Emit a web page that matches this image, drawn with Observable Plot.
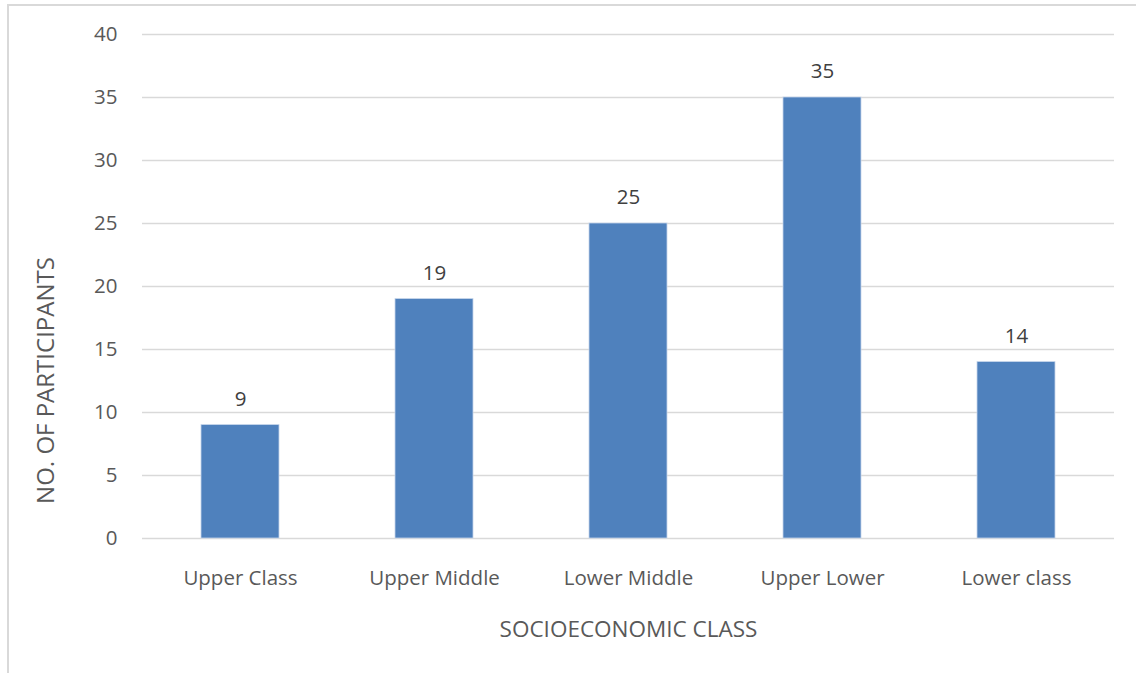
<!DOCTYPE html>
<html>
<head>
<meta charset="utf-8">
<script src="https://cdn.jsdelivr.net/npm/d3@7"></script>
<script src="https://cdn.jsdelivr.net/npm/@observablehq/plot@0.6"></script>
<style>
  body { margin: 0; background: #fff; }
  #wrap { position: relative; width: 1136px; height: 673px; overflow: hidden; }
  #border { position: absolute; left: 7px; top: 4px; width: 1200px; height: 700px;
            border-left: 2px solid #d9d9d9; border-top: 2px solid #d9d9d9; pointer-events: none; }
  svg { font-family: "Open Sans", sans-serif; }
</style>
</head>
<body>
<div id="wrap"><div id="border"></div></div>
<script>
const categories = ["Upper Class", "Upper Middle", "Lower Middle", "Upper Lower", "Lower class"];
const values = [9, 19, 25, 35, 14];
const yTicks = [0, 5, 10, 15, 20, 25, 30, 35, 40];

const data = categories.map((c, i) => ({category: c, value: values[i]}));

const chart = Plot.plot({
  width: 1136,
  height: 673,
  marginLeft: 142,
  marginRight: 22,
  marginTop: 34,
  marginBottom: 135,
  style: {fontSize: "20px", fontFamily: "Open Sans, sans-serif", color: "#595959", background: "transparent"},
  x: {domain: categories, paddingInner: 0.6, paddingOuter: 0.3, label: null},
  y: {domain: [0, 40], label: null},
  marks: [
    Plot.gridY(yTicks, {stroke: "#d9d9d9", strokeOpacity: 1, strokeWidth: 1.5}),
    Plot.axisY(yTicks, {tickSize: 0, tickPadding: 25, fill: "#595959", fontSize: 20.5, label: null}),
    Plot.axisX({tickSize: 0, tickPadding: 32, fill: "#595959", fontSize: 20.5, label: null}),
    Plot.barY(data, {x: "category", y: "value", fill: "#4f81bd", stroke: "#c5d5ea", strokeWidth: 0.8}),
    Plot.text(data, {x: "category", y: "value", text: d => String(d.value), dy: -26, fill: "#404040", fontSize: 20.5}),
    Plot.text(["SOCIOECONOMIC CLASS"], {frameAnchor: "bottom", textAnchor: "middle", dy: 98, text: d => d, fill: "#595959", fontSize: 22.5}),
    Plot.text(["NO. OF PARTICIPANTS"], {frameAnchor: "left", textAnchor: "middle", dx: -96, dy: 94, rotate: -90, text: d => d, fill: "#595959", fontSize: 24})
  ]
});
document.getElementById("wrap").prepend(chart);
chart.style.position = "absolute";
chart.style.left = "0";
chart.style.top = "0";
</script>
</body>
</html>
